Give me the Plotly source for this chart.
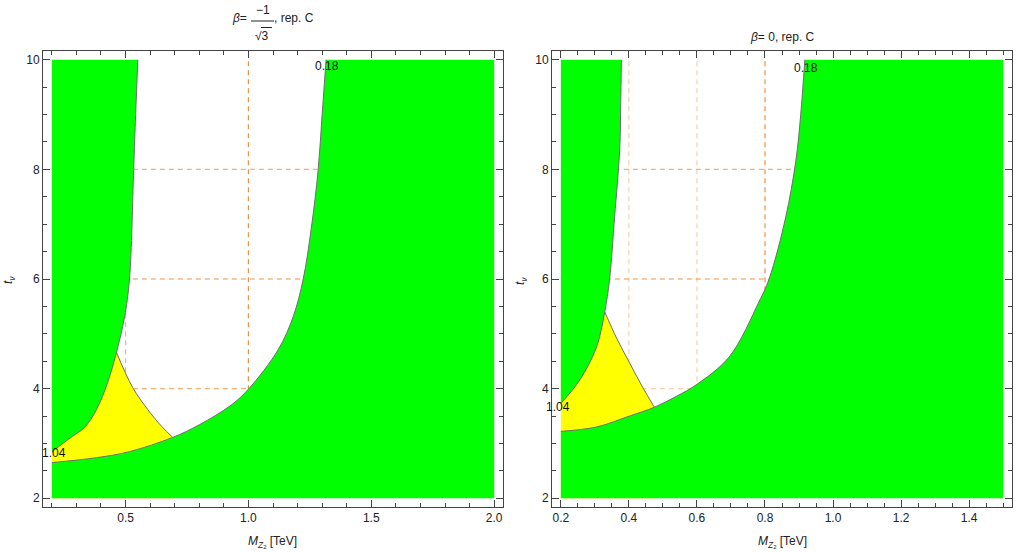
import plotly.graph_objects as go

W, H = 1017, 552

# ---------------- data ----------------
# Left panel: beta = -1/sqrt(3), rep. C
L_xrange = [0.2, 2.0]
L_yrange = [2.0, 10.0]
L_green_edge_x = [0.55, 0.541, 0.533, 0.516, 0.496, 0.463, 0.427, 0.382, 0.333, 0.284, 0.2]
L_green_edge_y = [10.0, 9.0, 8.0, 6.0, 5.31, 4.66, 4.11, 3.62, 3.29, 3.13, 2.85]
L_lower_edge_x = [0.2, 0.382, 0.516, 0.692, 0.80, 0.93, 1.0, 1.121, 1.182, 1.223, 1.255, 1.284, 1.30, 1.316]
L_lower_edge_y = [2.65, 2.74, 2.85, 3.11, 3.34, 3.70, 3.99, 4.71, 5.31, 6.0, 6.9, 8.0, 9.0, 10.0]
L_yellow_edge_x = [0.463, 0.529, 0.59, 0.647, 0.692]
L_yellow_edge_y = [4.66, 4.02, 3.62, 3.31, 3.11]
L_grid_x = [0.5, 1.0]
L_grid_y = [4, 6, 8]
L_label_104 = (0.207, 2.82)
L_label_018 = (1.321, 9.88)

# Right panel: beta = 0, rep. C
R_xrange = [0.2, 1.5]
R_yrange = [2.0, 10.0]
R_green_edge_x = [0.378, 0.376, 0.373, 0.358, 0.343, 0.329, 0.305, 0.256, 0.2]
R_green_edge_y = [10.0, 9.2, 8.36, 7.13, 5.98, 5.40, 4.76, 4.16, 3.73]
R_lower_edge_x = [0.2, 0.305, 0.402, 0.475, 0.54, 0.598, 0.695, 0.782, 0.812, 0.861, 0.891, 0.905, 0.917]
R_lower_edge_y = [3.22, 3.30, 3.50, 3.66, 3.86, 4.07, 4.58, 5.58, 6.0, 7.13, 8.17, 9.0, 10.0]
R_yellow_edge_x = [0.329, 0.364, 0.402, 0.44, 0.475]
R_yellow_edge_y = [5.40, 4.92, 4.47, 4.03, 3.66]
R_grid_x = [0.4, 0.6, 0.8]
R_grid_y = [4, 6, 8]
R_label_104 = (0.192, 3.66)
R_label_018 = (0.92, 9.85)

GREEN = "#00FF00"
YELLOW = "#FFFF00"
EDGE = "#6e6e6e"
CLEAR = "rgba(0,0,0,0)"
FONT = "Liberation Sans, Arial, sans-serif"

fig = go.Figure()


def guide(x, y, xa, ya):
    # smooth (spline) outline used as the curved side of the next filled trace
    fig.add_trace(go.Scatter(x=x, y=y, mode="lines", line=dict(color=CLEAR, width=1, shape="spline"),
                             xaxis=xa, yaxis=ya, hoverinfo="skip", showlegend=False))


def filled(x, y, color, xa, ya):
    fig.add_trace(go.Scatter(x=x, y=y, mode="lines", fill="tonexty", fillcolor=color,
                             line=dict(color=CLEAR, width=1),
                             xaxis=xa, yaxis=ya, hoverinfo="skip", showlegend=False))


def add_panel(xa, ya, xr, yr, gx, gy, lx, ly, yx, yy):
    xmin, xmax = xr
    ymin, ymax = yr
    # yellow region (its excess is covered by the green regions drawn after it)
    guide(yx, yy, xa, ya)
    filled([yx[0], xmin, xmin, yx[-1], yx[-1]], [yy[0], yy[0], ymin, ymin, yy[-1]], YELLOW, xa, ya)
    # upper-left green region
    guide(gx[::-1], gy[::-1], xa, ya)
    filled([gx[-1], xmin, gx[0]], [gy[-1], ymax, ymax], GREEN, xa, ya)
    # lower / right green region
    guide(lx, ly, xa, ya)
    filled([lx[0], xmin, xmax, xmax, lx[-1]], [ly[0], ymin, ymin, ymax, ymax], GREEN, xa, ya)
    # boundary lines
    for cx, cy in ((gx, gy), (lx, ly), (yx, yy)):
        fig.add_trace(go.Scatter(x=cx, y=cy, mode="lines",
                                 line=dict(color=EDGE, width=1, shape="spline"),
                                 xaxis=xa, yaxis=ya, hoverinfo="skip", showlegend=False))


add_panel("x", "y", L_xrange, L_yrange, L_green_edge_x, L_green_edge_y,
          L_lower_edge_x, L_lower_edge_y, L_yellow_edge_x, L_yellow_edge_y)
add_panel("x2", "y2", R_xrange, R_yrange, R_green_edge_x, R_green_edge_y,
          R_lower_edge_x, R_lower_edge_y, R_yellow_edge_x, R_yellow_edge_y)

shapes = []
DARK = "rgba(238,140,60,0.95)"
MED = "rgba(242,165,100,0.85)"
LIGHT = "rgba(248,200,160,0.85)"
grid_styles_L = {0.5: MED, 1.0: DARK, 4: MED, 6: DARK, 8: MED}
grid_styles_R = {0.4: LIGHT, 0.6: LIGHT, 0.8: DARK, 4: LIGHT, 6: DARK, 8: MED}


def add_grid(xref, yref, xr, yr, gxs, gys, styles):
    for g in gxs:
        shapes.append(dict(type="line", xref=xref, yref=yref, x0=g, x1=g, y0=yr[0], y1=yr[1],
                           layer="below", line=dict(color=styles[g], width=1.2, dash="5px,4px")))
    for g in gys:
        shapes.append(dict(type="line", xref=xref, yref=yref, x0=xr[0], x1=xr[1], y0=g, y1=g,
                           layer="below", line=dict(color=styles[g], width=1.2, dash="5px,4px")))


add_grid("x", "y", L_xrange, L_yrange, L_grid_x, L_grid_y, grid_styles_L)
add_grid("x2", "y2", R_xrange, R_yrange, R_grid_x, R_grid_y, grid_styles_R)


def P(px, py):
    return px / W, 1 - py / H


# fraction bar and radical overline in the left title
for (x0, y0, x1, y1) in [(251, 21, 274, 21), (261, 27.5, 272, 27.5)]:
    a0 = P(x0, y0)
    a1 = P(x1, y1)
    shapes.append(dict(type="line", xref="paper", yref="paper", x0=a0[0], y0=a0[1],
                       x1=a1[0], y1=a1[1], line=dict(color="#222", width=1)))

annotations = []


def ann(text, px, py, size=12, xanchor="center", angle=0):
    x, y = P(px, py)
    annotations.append(dict(text=text, x=x, y=y, xref="paper", yref="paper", showarrow=False,
                            xanchor=xanchor, yanchor="middle", textangle=angle,
                            font=dict(family=FONT, size=size, color="#222")))


ann("<i>β</i>=", 239, 18, 12)
ann("−1", 263, 10, 12)
ann("√3", 262, 36, 12)
ann(", rep. C", 272, 18, 12, xanchor="left")
ann("<i>β</i>= 0, rep. C", 782, 37, 12)
ann("<i>M</i><sub><i>Z</i><sub>2</sub></sub> [TeV]", 272, 542, 12)
ann("<i>M</i><sub><i>Z</i><sub>2</sub></sub> [TeV]", 782, 542, 12)
ann("<i>t</i><sub><i>ν</i></sub>", 9, 280, 12, angle=-90)
ann("<i>t</i><sub><i>ν</i></sub>", 521, 281, 12, angle=-90)

for txt, pos, xr, yr in (("1.04", L_label_104, "x", "y"), ("0.18", L_label_018, "x", "y"),
                         ("1.04", R_label_104, "x2", "y2"), ("0.18", R_label_018, "x2", "y2")):
    annotations.append(dict(text=txt, x=pos[0], y=pos[1], xref=xr, yref=yr, showarrow=False,
                            font=dict(family=FONT, size=12, color="#111")))


def axis(domain, rng, dtick, minor, fmt, anchor):
    return dict(domain=domain, range=rng, dtick=dtick, tick0=0, tickformat=fmt,
                ticks="inside", ticklen=7, tickwidth=1, tickcolor="#444",
                minor=dict(dtick=minor, ticks="inside", ticklen=4, tickcolor="#444", tickwidth=1,
                           showgrid=False),
                showline=True, linecolor="#444", linewidth=1, mirror="allticks",
                showgrid=False, zeroline=False, anchor=anchor,
                tickfont=dict(family=FONT, size=12, color="#222"))


ydom = [1 - 507 / H, 1 - 51 / H]
fig.update_layout(
    width=W, height=H, margin=dict(l=0, r=0, t=0, b=0),
    paper_bgcolor="white", plot_bgcolor="white", showlegend=False, hovermode=False,
    xaxis=axis([43 / W, 503 / W], [0.164, 2.036], 0.5, 0.1, ".1f", "y"),
    yaxis=axis(ydom, [1.84, 10.16], 2, 0.5, "d", "x"),
    xaxis2=axis([552 / W, 1012 / W], [0.174, 1.526], 0.2, 0.05, ".1f", "y2"),
    yaxis2=axis(ydom, [1.84, 10.16], 2, 0.5, "d", "x2"),
    shapes=shapes, annotations=annotations,
)

fig.write_html("out.html")
